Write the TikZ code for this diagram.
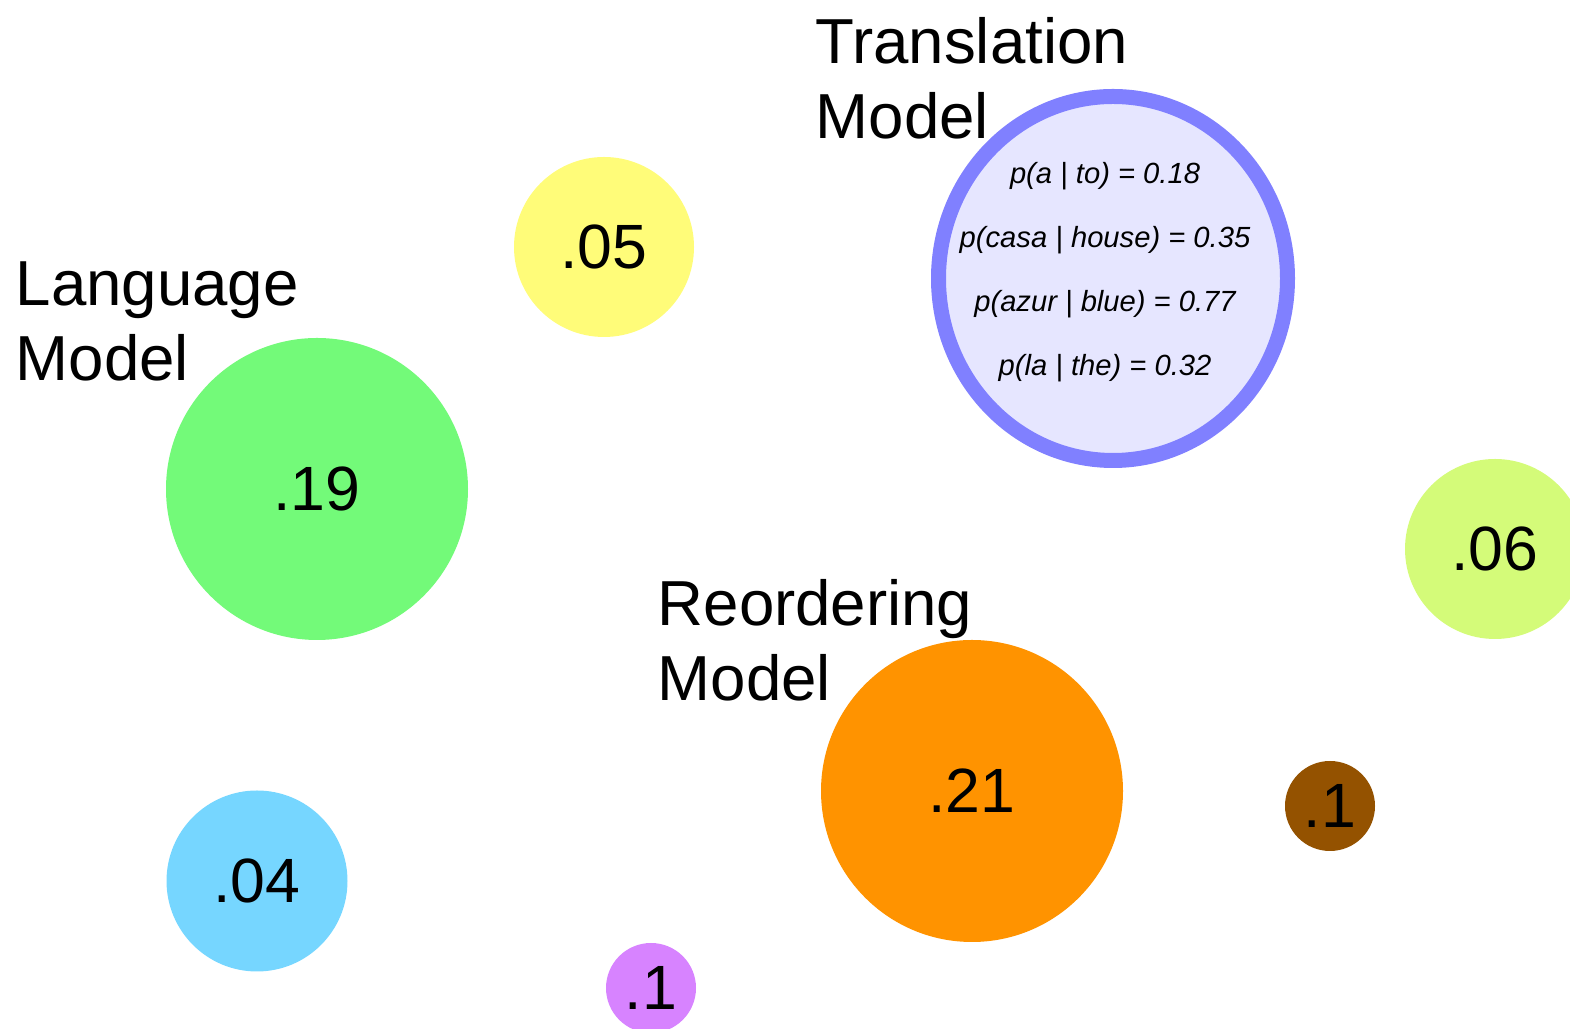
\documentclass[tikz,border=0pt]{standalone}
\usepackage{fontspec}
\setmainfont{Liberation Sans}
\usetikzlibrary{positioning,shapes.geometric}
\definecolor{flora}{HTML}{73FA79}
\definecolor{banana}{HTML}{FFFC79}
\definecolor{sky}{HTML}{76D6FF}
\definecolor{tangerine}{HTML}{FF9300}
\definecolor{mocha}{HTML}{945200}
\definecolor{lavender}{HTML}{D783FF}
\definecolor{honeydew}{HTML}{D4FB79}
\definecolor{orchid}{HTML}{8080FF}
\definecolor{paleblue}{HTML}{E6E6FF}
\tikzset{
  bubble/.style={circle,inner sep=0pt,font=\fontsize{17.8}{21}\selectfont},
  title/.style={align=left,anchor=north west,inner sep=0pt,font=\fontsize{18.1}{21.3}\selectfont},
  probs/.style={align=center,inner sep=0pt,font=\fontsize{8.3}{18.2}\selectfont\itshape}
}
\begin{document}
\begin{tikzpicture}
\useasboundingbox (0,0) rectangle (15.7,-10.29);
% model weights
\node[bubble,fill=banana,minimum size=1.8cm] (w05) at (6.04,-2.47) {.05};
\node[bubble,fill=flora,minimum size=3.02cm] (lm) at (3.17,-4.89) {.19};
\node[bubble,fill=honeydew,minimum size=1.8cm] (w06) at (14.95,-5.49) {.06};
\node[bubble,fill=tangerine,minimum size=3.02cm] (rm) at (9.72,-7.91) {.21};
\node[bubble,fill=mocha,minimum size=0.9cm] (w1a) at (13.30,-8.06) {.1};
\node[bubble,fill=sky,minimum size=1.81cm] (w04) at (2.57,-8.81) {.04};
\node[bubble,fill=lavender,minimum size=0.9cm] (w1b) at (6.51,-9.88) {.1};
% translation table
\node[ellipse,draw=orchid,fill=paleblue,line width=0.15cm,inner sep=0pt,
  minimum width=3.49cm,minimum height=3.64cm] (tm) at (11.13,-2.785) {};
\node[probs] (tmp) at ([shift={(-0.08,0.065)}]tm.center)
  {p(a | to) = 0.18\\p(casa | house) = 0.35\\p(azur | blue) = 0.77\\p(la | the) = 0.32};
% labels
\node[title] (tmlabel) at (8.15,-0.17) {Translation\\Model};
\node[title] (lmlabel) at (0.15,-2.61) {Language\\Model};
\node[title] (rmlabel) at (6.57,-5.79) {Reordering\\Model};
\end{tikzpicture}
\end{document}
